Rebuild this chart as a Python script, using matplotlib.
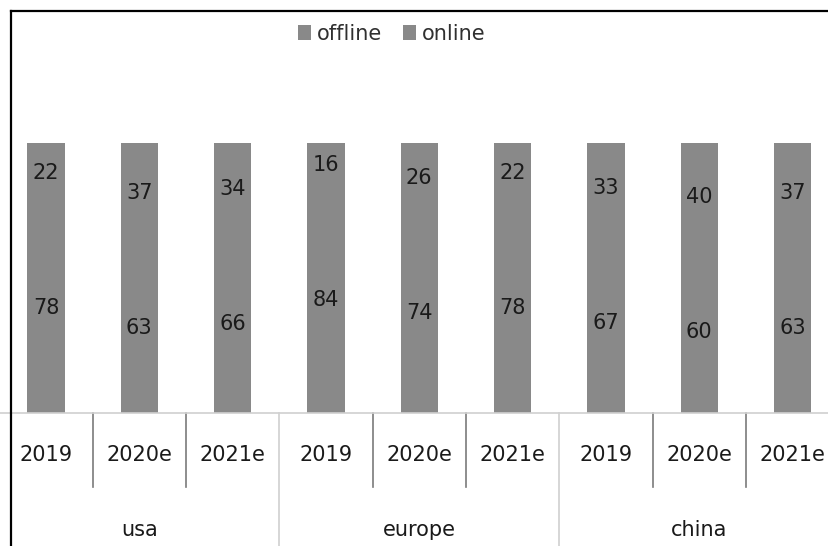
import matplotlib

matplotlib.use("Agg")
import matplotlib.pyplot as plt
from matplotlib.lines import Line2D
from matplotlib.transforms import blended_transform_factory

regions = ["usa", "europe", "china"]
years = ["2019", "2020e", "2021e"]
offline = [78, 63, 66, 84, 74, 78, 67, 60, 63]
online = [22, 37, 34, 16, 26, 22, 33, 40, 37]

BAR = "#898989"
plt.rcParams["font.family"] = ["DejaVu Sans"]

fig = plt.figure(figsize=(8.29, 5.46), dpi=100)
ax = fig.add_axes([-0.7 / 829, 133 / 546, 840 / 829, 270 / 546])

x = list(range(len(offline)))
b1 = ax.bar(x, offline, width=0.4, color=BAR, label="offline")
b2 = ax.bar(x, online, width=0.4, bottom=offline, color=BAR, label="online")
for i in x:
    ax.text(i, offline[i] / 2, str(offline[i]), ha="center", va="center",
            fontsize=15, color="#1a1a1a")
    ax.text(i, offline[i] + online[i] / 2, str(online[i]), ha="center",
            va="center", fontsize=15, color="#1a1a1a")

ax.set_xlim(-0.5, len(x) - 0.5)
ax.set_ylim(0, 100)
ax.set_xticks([])
ax.set_yticks([])
for side in ("top", "right", "left"):
    ax.spines[side].set_visible(False)
ax.spines["bottom"].set_color("#d0d0d0")
ax.spines["bottom"].set_linewidth(1.2)

# two-level category axis: years, then regions
tr = blended_transform_factory(ax.transData, ax.transAxes)
for i in x:
    ax.text(i, -0.156, years[i % 3], ha="center", va="center", fontsize=15,
            color="#1a1a1a", transform=tr, clip_on=False)
for g, name in enumerate(regions):
    ax.text(3 * g + 1, -0.433, name, ha="center", va="center", fontsize=15,
            color="#1a1a1a", transform=tr, clip_on=False)
for i in range(len(x) - 1):
    pos = i + 0.5
    if (i + 1) % 3 == 0:
        ax.add_line(Line2D([pos, pos], [0, -0.5], transform=tr, color="#d0d0d0",
                           linewidth=1.2, clip_on=False))
    else:
        ax.add_line(Line2D([pos, pos], [0, -0.274], transform=tr, color="#7a7a7a",
                           linewidth=1.2, clip_on=False))

fig.legend(handles=[b1, b2], loc="center", bbox_to_anchor=(392 / 829, 1 - 34 / 546),
           ncol=2, frameon=False, fontsize=15, handlelength=0.6, handleheight=0.7,
           handletextpad=0.3, columnspacing=1.0, labelcolor="#303030")

# frame edges
fig.add_artist(Line2D([11 / 829, 11 / 829], [0, 1 - 11 / 546], color="black",
                      linewidth=1.6, transform=fig.transFigure))
fig.add_artist(Line2D([11 / 829, 1], [1 - 11 / 546, 1 - 11 / 546], color="black",
                      linewidth=1.6, transform=fig.transFigure))

fig.savefig("out.png", dpi=100, facecolor="white")
